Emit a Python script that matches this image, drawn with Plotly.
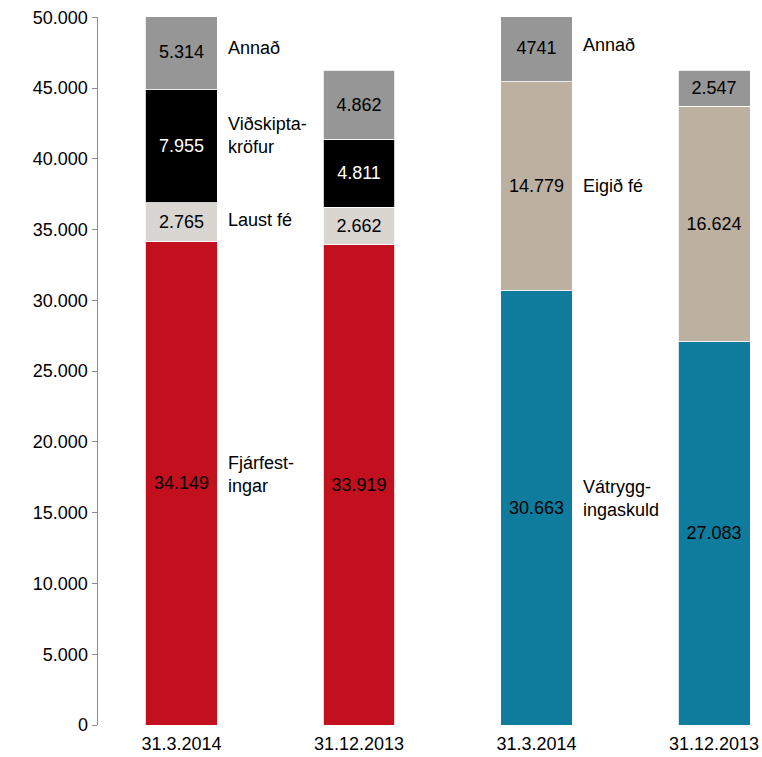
import plotly.graph_objects as go

# Categories (four bar positions)
categories = ["31.3.2014", "31.12.2013", "31.3.2014", "31.12.2013"]
positions = [0, 1, 2, 3]

# Assets (left pair)
fjarfestingar = [34149, 33919]
laust_fe = [2765, 2662]
vidskiptakrofur = [7955, 4811]
annad_eignir = [5314, 4862]

# Liabilities & equity (right pair)
vatryggingaskuld = [30663, 27083]
eigid_fe = [14779, 16624]
annad_skuldir = [4741, 2547]

annad_skuldir_labels = ["4741", "2.547"]
y_ticks = [0, 5000, 10000, 15000, 20000, 25000, 30000, 35000, 40000, 45000, 50000]

FONT = "Liberation Sans, Arial, sans-serif"
FS = 18


def fmt(v):
    return f"{v:,}".replace(",", ".")


fig = go.Figure()

series = [
    ([0, 1], fjarfestingar, "#C2101E", "black", None, "Fjárfest-<br>ingar", 9),
    ([0, 1], laust_fe, "#D9D5D1", "black", None, "Laust fé", 2),
    ([0, 1], vidskiptakrofur, "#000000", "white", None, "Viðskipta-<br>kröfur", 11),
    ([0, 1], annad_eignir, "#969696", "black", None, "Annað", 4),
    ([2, 3], vatryggingaskuld, "#0F7B9D", "black", None, "Vátrygg-<br>ingaskuld", 9),
    ([2, 3], eigid_fe, "#BCB1A0", "black", None, "Eigið fé", 0),
    ([2, 3], annad_skuldir, "#969696", "black", annad_skuldir_labels, "Annað", 3),
]

base = {p: 0 for p in positions}
for xs, vals, color, tcol, labels, name, shift in series:
    texts = labels if labels is not None else [fmt(v) for v in vals]
    fig.add_trace(go.Bar(
        x=xs, y=vals, marker=dict(color=color, line=dict(color="white", width=0.8)),
        text=texts, textposition="inside", insidetextanchor="middle",
        textfont=dict(color=tcol, size=FS, family=FONT), constraintext="none",
        width=0.405, name=name, showlegend=False, hoverinfo="skip",
    ))
    # segment label to the right of the first bar of each pair
    mid = base[xs[0]] + vals[0] / 2
    fig.add_annotation(
        x=xs[0] + 0.25, y=mid, text=name, showarrow=False, xanchor="left",
        yanchor="middle", align="left", yshift=shift,
        font=dict(size=FS, color="black", family=FONT),
    )
    for x, v in zip(xs, vals):
        base[x] += v

fig.update_layout(
    barmode="stack",
    width=762, height=757,
    margin=dict(l=98, r=0, t=17, b=32),
    plot_bgcolor="white", paper_bgcolor="white",
    separators=",.",
    font=dict(family=FONT, size=FS, color="black"),
    bargap=0,
)
fig.update_xaxes(
    tickmode="array", tickvals=positions, ticktext=categories,
    range=[-0.47, 3.27], showline=False, ticks="", showgrid=False,
    ticklabelstandoff=6,
    tickfont=dict(size=FS, color="black"),
)
fig.update_yaxes(
    range=[0, 50020], tickmode="array", tickvals=y_ticks, tickformat=",d",
    showgrid=False, showline=True, linecolor="#8C8C8C", linewidth=1.5,
    ticks="outside", ticklen=5, tickcolor="#8C8C8C", zeroline=False,
    ticklabeloverflow="allow",
    tickfont=dict(size=FS, color="black"),
)

fig.write_html(
    "out.html",
    config={"displayModeBar": False, "staticPlot": True},
    post_script="document.body.style.margin='0';document.body.style.overflow='hidden';",
)
